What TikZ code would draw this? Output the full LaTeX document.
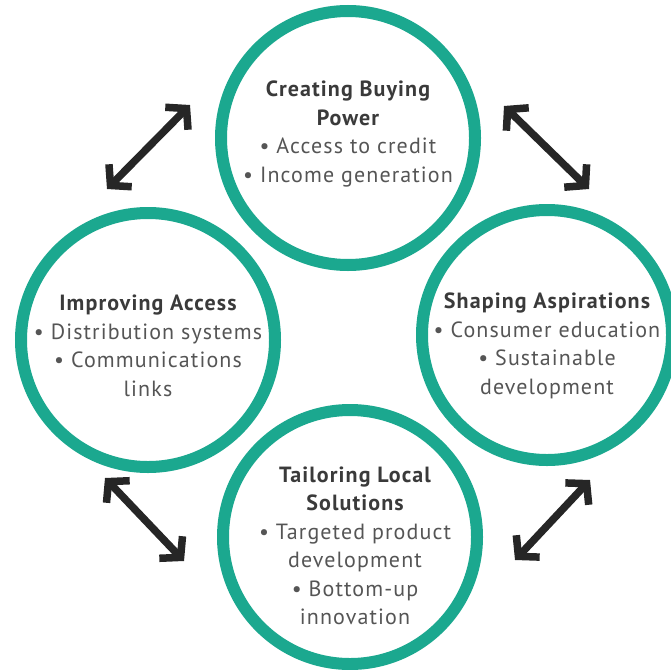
\documentclass[tikz,border=0pt]{standalone}
\usepackage{fontspec}
\usepackage{tikz}
\usetikzlibrary{arrows.meta}
\setmainfont[LetterSpace=5]{PT Sans}
\definecolor{ringteal}{RGB}{27,168,143}
\definecolor{headgray}{RGB}{58,58,58}
\definecolor{itemgray}{RGB}{85,85,85}
\tikzset{
  ring/.style={draw=ringteal,line width=12pt,circle,inner sep=0pt},
  ringtext/.style={align=center,font=\fontsize{22}{28.5}\selectfont,text=itemgray},
  linkarrow/.style={line width=7.5pt,draw=black!85,
    {Straight Barb[length=14pt,width=32pt]}-{Straight Barb[length=14pt,width=32pt]}}
}
\newcommand{\hd}[1]{{\bfseries\color{headgray}#1}}
\newcommand{\bl}{\textbullet\ }
\begin{document}
\begin{tikzpicture}[x=1pt,y=-1pt]
\useasboundingbox (0,0) rectangle (671,669);
\node[ring,minimum size=254pt] (buying) at (348,138) {};
\node[ring,minimum size=254pt] (access) at (148,340) {};
\node[ring,minimum size=250pt] (aspire) at (547,335) {};
\node[ring,minimum size=254pt] (local) at (350,537) {};
\node[ringtext] (buyingtxt) at (348,134) {\hd{Creating Buying}\\\hd{Power}\\\bl Access to credit\\\bl Income generation};
\node[ringtext] (accesstxt) at (148,346) {\hd{Improving Access}\\\bl Distribution systems\\\bl Communications\\links};
\node[ringtext] (aspiretxt) at (547,346) {\hd{Shaping Aspirations}\\\bl Consumer education\\\bl Sustainable\\development};
\node[ringtext] (localtxt) at (355,546) {\hd{Tailoring Local}\\\hd{Solutions}\\\bl Targeted product\\development\\\bl Bottom-up\\innovation};
\coordinate (tlA) at (107,189);
\coordinate (tlB) at (190,105);
\coordinate (trA) at (504,106);
\coordinate (trB) at (589,189);
\coordinate (blA) at (105,478);
\coordinate (blB) at (184,561);
\coordinate (brA) at (515,560);
\coordinate (brB) at (590,480);
\draw[linkarrow] (tlA) -- (tlB);
\draw[linkarrow] (trA) -- (trB);
\draw[linkarrow] (blA) -- (blB);
\draw[linkarrow] (brA) -- (brB);
\end{tikzpicture}
\end{document}
